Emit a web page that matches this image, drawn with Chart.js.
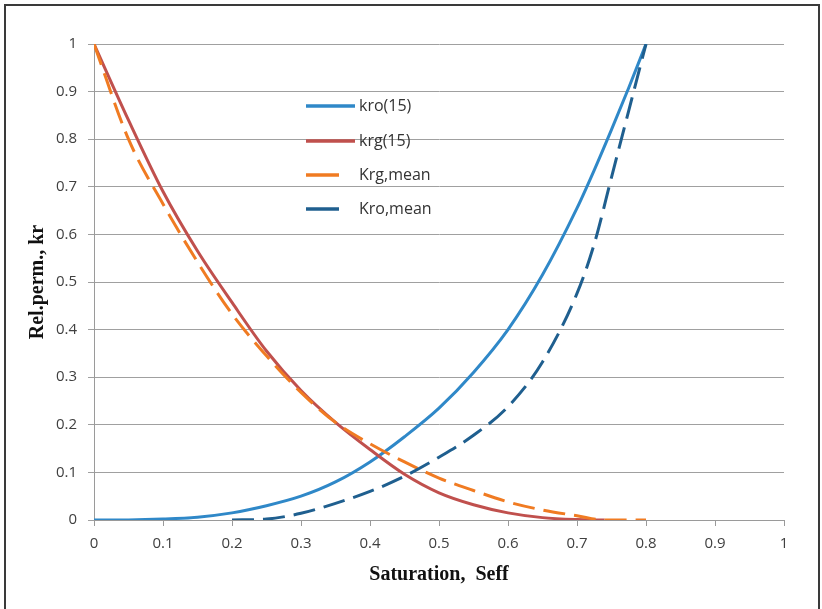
<!DOCTYPE html>
<html>
<head>
<meta charset="utf-8">
<script src="https://cdn.jsdelivr.net/npm/chart.js@4.4.0/dist/chart.umd.min.js"></script>
<style>
  html, body { margin: 0; padding: 0; background: #fff; }
  #wrap { width: 822px; height: 609px; position: relative; }
</style>
</head>
<body>
<div id="wrap"><canvas id="krChart" width="822" height="609"></canvas></div>
<script>
// saturation values and relative permeabilities
const satKro15 = [0, 0.05, 0.1, 0.15, 0.2, 0.25, 0.3, 0.35, 0.4, 0.45, 0.5, 0.55, 0.6, 0.65, 0.7, 0.725, 0.75, 0.775, 0.8];
const kro15    = [0, 0.0002, 0.002, 0.006, 0.015, 0.03, 0.05, 0.08, 0.122, 0.175, 0.235, 0.31, 0.40, 0.515, 0.655, 0.735, 0.82, 0.908, 1.0];

const satKrg15 = [0, 0.05, 0.1, 0.15, 0.2, 0.25, 0.3, 0.35, 0.4, 0.45, 0.5, 0.55, 0.6, 0.65, 0.7, 0.74];
const krg15    = [1, 0.84, 0.69, 0.565, 0.457, 0.355, 0.272, 0.205, 0.148, 0.096, 0.057, 0.032, 0.015, 0.005, 0.001, 0];

const satKrgMean = [0, 0.05, 0.1, 0.15, 0.2, 0.25, 0.3, 0.35, 0.4, 0.45, 0.5, 0.55, 0.6, 0.65, 0.7, 0.74, 0.8];
const krgMean    = [1, 0.8, 0.664, 0.542, 0.433, 0.345, 0.268, 0.205, 0.16, 0.122, 0.088, 0.062, 0.038, 0.021, 0.009, 0, 0];

const satKroMean = [0.2, 0.25, 0.3, 0.35, 0.4, 0.45, 0.5, 0.55, 0.6, 0.65, 0.7, 0.725, 0.75, 0.775, 0.8];
const kroMean    = [0, 0.002, 0.014, 0.035, 0.06, 0.092, 0.132, 0.178, 0.238, 0.332, 0.476, 0.58, 0.72, 0.86, 1.0];

const seriesNames = ['kro(15)', 'krg(15)', 'Krg,mean', 'Kro,mean'];
const seriesColors = ['#2f88c8', '#c0504d', '#f07b22', '#1f5f8f'];

function toPoints(xs, ys) {
  return xs.map((x, i) => ({ x: x, y: ys[i] }));
}

// frame round the whole picture (bottom edge falls outside the window)
const framePlugin = {
  id: 'frame',
  beforeDraw(chart) {
    const ctx = chart.ctx;
    ctx.save();
    ctx.fillStyle = '#fff';
    ctx.fillRect(0, 0, chart.width, chart.height);
    ctx.strokeStyle = '#3a3a3a';
    ctx.lineWidth = 2;
    ctx.strokeRect(5, 5, 814, 640);
    ctx.restore();
  }
};

// legend sits inside the plot, with no box
const innerLegend = {
  id: 'innerLegend',
  afterDraw(chart) {
    const ctx = chart.ctx;
    const a = chart.chartArea;
    const x0 = a.left + 212;
    const rows = [62, 97, 131, 165];
    const lens = [49, 49, 33, 33];
    ctx.save();
    ctx.font = '16px "Open Sans"';
    ctx.textBaseline = 'middle';
    ctx.fillStyle = '#333';
    seriesNames.forEach((name, i) => {
      const y = a.top + rows[i];
      ctx.strokeStyle = seriesColors[i];
      ctx.lineWidth = 3.5;
      ctx.beginPath();
      ctx.moveTo(x0, y);
      ctx.lineTo(x0 + lens[i], y);
      ctx.stroke();
      ctx.fillText(name, x0 + 53, y);
    });
    ctx.restore();
  }
};

function lineSet(i, xs, ys, dashed, order) {
  return {
    label: seriesNames[i],
    data: toPoints(xs, ys),
    borderColor: seriesColors[i],
    backgroundColor: seriesColors[i],
    borderWidth: 3,
    borderDash: dashed ? [22, 9] : [],
    pointRadius: 0,
    fill: false,
    cubicInterpolationMode: 'monotone',
    order: order
  };
}

window.addEventListener('DOMContentLoaded', () => {
  const ctx = document.getElementById('krChart').getContext('2d');
  new Chart(ctx, {
    type: 'line',
    data: {
      datasets: [
        lineSet(0, satKro15, kro15, false, 4),
        lineSet(1, satKrg15, krg15, false, 3),
        lineSet(2, satKrgMean, krgMean, true, 2),
        lineSet(3, satKroMean, kroMean, true, 1)
      ]
    },
    options: {
      responsive: false,
      animation: false,
      layout: { padding: { left: 0, right: 38, top: 44, bottom: 0 } },
      plugins: {
        legend: { display: false },
        tooltip: { enabled: false }
      },
      scales: {
        x: {
          type: 'linear',
          min: 0,
          max: 1,
          afterFit: s => { s.height = 89; },
          ticks: {
            stepSize: 0.1,
            color: '#404040',
            font: { family: 'Open Sans', size: 15 },
            padding: 9,
            maxRotation: 0,
            callback: v => +v.toFixed(1)
          },
          grid: { drawOnChartArea: false, drawTicks: true, tickLength: 6, color: '#9a9a9a' },
          border: { display: true, color: '#9a9a9a', width: 1 },
          title: {
            display: true,
            text: 'Saturation,  Seff',
            color: '#111',
            font: { family: 'Liberation Serif', size: 20, weight: 'bold' },
            padding: { top: 0, bottom: 22 }
          }
        },
        y: {
          type: 'linear',
          min: 0,
          max: 1,
          afterFit: s => { s.width = 94; },
          ticks: {
            stepSize: 0.1,
            color: '#404040',
            font: { family: 'Open Sans', size: 15 },
            padding: 11,
            callback: v => +v.toFixed(1)
          },
          grid: { color: '#a0a0a0', lineWidth: 1, tickLength: 6 },
          border: { display: true, color: '#9a9a9a', width: 1 },
          title: {
            display: true,
            text: 'Rel.perm., kr',
            color: '#111',
            font: { family: 'Liberation Serif', size: 20, weight: 'bold' },
            padding: { top: 26, bottom: 0 }
          }
        }
      }
    },
    plugins: [framePlugin, innerLegend]
  });
});
</script>
</body>
</html>
